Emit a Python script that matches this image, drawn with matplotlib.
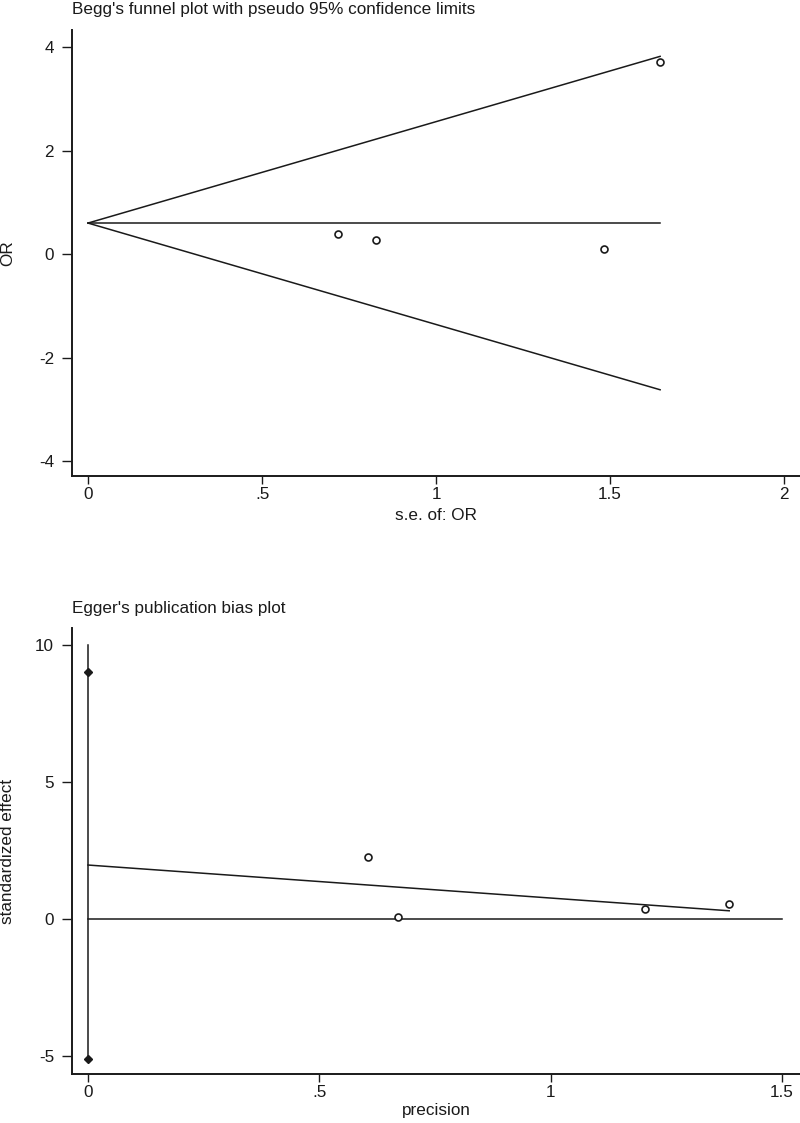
import numpy as np
import matplotlib.pyplot as plt

plt.rcParams['font.family'] = ['Liberation Sans', 'DejaVu Sans']

# Begg's funnel plot data
begg_se = [0.717, 0.827, 1.484, 1.644]
begg_or = [0.39, 0.27, 0.10, 3.72]
pooled_or = 0.6
max_se = 1.644

# Egger's plot data
egger_prec = [0.606, 0.671, 1.204, 1.386]
egger_eff = [2.27, 0.08, 0.35, 0.54]
egger_intercept = 1.97
egger_slope = (0.30 - 1.97) / 1.386
ci_low, ci_high = -5.1, 9.0
ci_line_top = 10.0

ink = '#1a1a1a'
fs = 12.3


def style_axes(ax):
    for side in ['top', 'right']:
        ax.spines[side].set_visible(False)
    for side in ['left', 'bottom']:
        ax.spines[side].set_linewidth(1.4)
        ax.spines[side].set_color(ink)
    ax.tick_params(axis='x', length=6, width=1.0, color=ink,
                   labelsize=fs, labelcolor=ink, pad=2)
    ax.tick_params(axis='y', length=7, width=1.0, color=ink,
                   labelsize=fs, labelcolor=ink, pad=6)


fig = plt.figure(figsize=(8, 11.23), dpi=100)

# top: Begg
ax1 = fig.add_axes([0.09, 0.5761, 0.91, 0.3971])
se_line = np.array([0, max_se])
ax1.plot(se_line, pooled_or + 1.96 * se_line, color=ink, lw=1.1)
ax1.plot(se_line, pooled_or - 1.96 * se_line, color=ink, lw=1.1)
ax1.plot(se_line, [pooled_or, pooled_or], color=ink, lw=1.1)
ax1.plot(begg_se, begg_or, 'o', ms=5, mfc='white', mec=ink, mew=1.2)
ax1.set_xlim(-0.046, 2.046)
ax1.set_ylim(-4.29, 4.33)
ax1.set_xticks([0, 0.5, 1, 1.5, 2])
ax1.set_xticklabels(['0', '.5', '1', '1.5', '2'])
ax1.set_yticks([-4, -2, 0, 2, 4])
ax1.set_yticklabels(['-4', '-2', '0', '2', '4'])
style_axes(ax1)
ax1.set_xlabel('s.e. of: OR', fontsize=fs, color=ink)
ax1.xaxis.set_label_coords(0.5, -0.072)
ax1.set_ylabel('OR', fontsize=fs, color=ink)
ax1.yaxis.set_label_coords(-0.078, 0.5)
fig.text(0.09, 1 - 14 / 1123, "Begg's funnel plot with pseudo 95% confidence limits",
         fontsize=fs, color=ink, ha='left', va='baseline')

# bottom: Egger
ax2 = fig.add_axes([0.09, 0.0436, 0.91, 0.3971])
ax2.plot([0, 1.5], [0, 0], color=ink, lw=1.1)
ax2.plot([0, 0], [ci_low, ci_line_top], color=ink, lw=1.1)
ax2.plot([0, 0], [ci_low, ci_high], 'D', ms=4, color=ink)
prec_line = np.array([0, max(egger_prec)])
ax2.plot(prec_line, egger_intercept + egger_slope * prec_line, color=ink, lw=1.1)
ax2.plot(egger_prec, egger_eff, 'o', ms=5, mfc='white', mec=ink, mew=1.2)
ax2.set_xlim(-0.0346, 1.539)
ax2.set_ylim(-5.66, 10.62)
ax2.set_xticks([0, 0.5, 1, 1.5])
ax2.set_xticklabels(['0', '.5', '1', '1.5'])
ax2.set_yticks([-5, 0, 5, 10])
ax2.set_yticklabels(['-5', '0', '5', '10'])
style_axes(ax2)
ax2.set_xlabel('precision', fontsize=fs, color=ink)
ax2.xaxis.set_label_coords(0.5, -0.066)
ax2.set_ylabel('standardized effect', fontsize=fs, color=ink)
ax2.yaxis.set_label_coords(-0.078, 0.5)
fig.text(0.09, 1 - 613 / 1123, "Egger's publication bias plot",
         fontsize=fs, color=ink, ha='left', va='baseline')

fig.savefig('out.png', dpi=100)
